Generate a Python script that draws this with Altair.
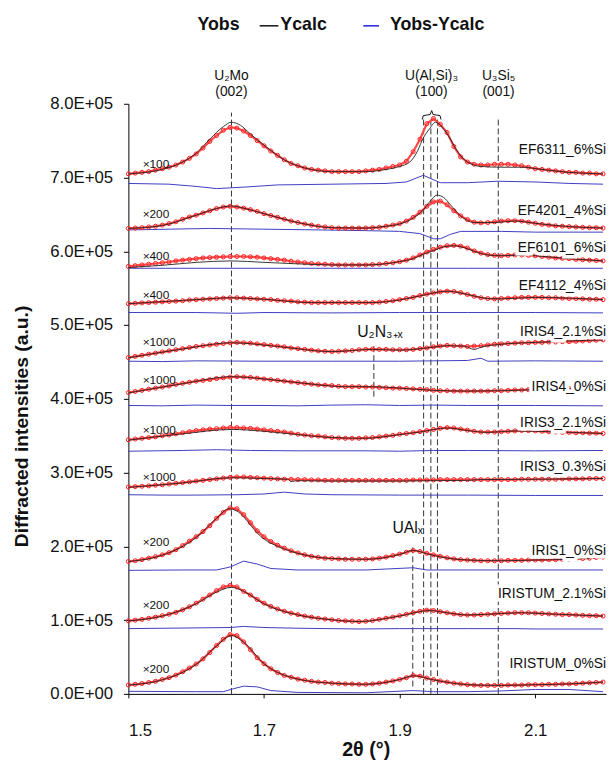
import altair as alt
import numpy as np
import pandas as pd

FONT = "Liberation Sans"

# x grid of the observed points (2-theta, degrees)
X_OBS = np.round(1.50 + 0.01 * np.arange(71), 2)

SAMPLES = ["EF6311_6%Si", "EF4201_4%Si", "EF6101_6%Si", "EF4112_4%Si",
           "IRIS4_2.1%Si", "IRIS4_0%Si", "IRIS3_2.1%Si", "IRIS3_0.3%Si",
           "IRIS1_0%Si", "IRISTUM_2.1%Si", "IRISTUM_0%Si"]
FACTORS = ["×100", "×200", "×400", "×400", "×1000", "×1000", "×1000", "×1000",
           "×200", "×200", "×200"]

# observed intensities (thousands of counts, offset stacked), x = 1.50 .. 2.20 step 0.01
OBS_EF6311 = [705, 706, 707, 708, 710, 712, 714, 717, 721, 726,
              732, 740, 749, 757, 764, 768, 767, 763, 757, 750,
              743, 736, 730, 724, 719, 716, 713, 711, 710, 709,
              708, 708, 708, 708, 708, 709, 710, 711, 713, 715,
              717, 722, 735, 752, 773, 780, 772, 761, 742, 728,
              721, 718, 717, 717, 718, 718, 718, 717, 716, 714,
              712, 711, 710, 709, 708, 707, 707, 706, 706, 705, 705]
OBS_EF4201 = [631, 631.5, 632, 633, 634, 635.5, 637.5, 640, 643.5, 646.5,
              649, 652, 655, 658, 660, 661, 660, 658.5, 656.5, 654,
              651, 648.5, 646, 643.5, 641, 639, 637, 635.5, 634, 633,
              632, 631.5, 631.5, 631.5, 631.5, 631.5, 632, 632.5, 634, 635.5,
              637.5, 641, 646, 653, 661, 667, 668, 663, 655, 648,
              643, 639.5, 638.5, 639, 640, 641, 641.5, 641.5, 641, 639.5,
              638, 636.5, 635.5, 634.5, 634, 633.5, 633, 632.5, 632, 632, 631.5]
OBS_EF6101 = [579.5, 580.5, 581.5, 582.5, 583.5, 584.5, 585.5, 587, 588, 589,
              590, 591, 591.5, 592, 592.5, 593, 593, 593, 592.5, 592,
              591, 590, 589, 588, 586.5, 585.5, 584.5, 583.5, 583, 582.5,
              582, 581.5, 581.5, 581.5, 581.5, 581.5, 582, 582.5, 583.5, 584.5,
              586, 588, 591, 595, 599, 602.5, 605.5, 607.5, 608, 607,
              604.5, 600.5, 597.5, 595.5, 594.5, 594, 594.5, 595, 595, 594.5,
              594, 593, 592, 591, 590.5, 590, 589, 588.5, 588, 587.5, 587]
OBS_EF4112 = [529, 529.5, 530, 530.5, 531, 531.5, 532, 532.5, 533, 534,
              534.5, 535, 535.5, 536, 536.5, 537, 537, 536.5, 536, 535.5,
              535, 534.5, 533.5, 533, 532.5, 531.5, 531, 530.5, 530.5, 530.5,
              530.5, 530.5, 530.5, 530.5, 530.5, 530.5, 530.5, 531, 532, 533,
              534.5, 536, 537.5, 540, 542, 543.5, 545, 546, 545.5, 544,
              541.5, 539, 537, 536, 535.5, 536, 536.5, 537, 537.5, 537.5,
              537.5, 537.5, 537, 537, 536.5, 536, 536, 535.5, 535, 535, 534.5]
OBS_IRIS4_21 = [456, 457.5, 459, 460.5, 462, 463.5, 465, 466.5, 468, 469.5,
                471, 472, 473, 474, 475, 476, 476.5, 476, 475.5, 474.5,
                473.5, 472.5, 471.5, 470.5, 469, 468, 467, 466, 465, 464.5,
                464, 464.5, 465, 465.5, 466.5, 467, 467.5, 467, 467, 466.5,
                466.5, 466.5, 467, 468, 469, 470.5, 471.5, 472.5, 472, 471.5,
                471, 471.5, 472, 473, 474, 474.5, 475, 475.5, 476, 476,
                476.5, 476.5, 477, 477, 477.5, 477.5, 478, 478.5, 479, 479.5, 480]
OBS_IRIS4_0 = [408.5, 410, 411.5, 413, 414.5, 416, 417.5, 419.5, 421, 422.5,
               424, 425, 426, 427.5, 428.5, 429.5, 430, 429.5, 429, 428,
               427, 426, 425, 424, 423, 422, 421, 420, 419, 418.5,
               418, 417, 416.5, 416.5, 416.5, 416, 416, 415.5, 415, 414.5,
               414.5, 414, 413.5, 413, 412.5, 411.5, 411, 411, 410.5, 410.5,
               410.5, 410.5, 410.5, 410.5, 411, 411, 411.5, 412, 412, 412.5,
               412.5, 413, 413, 413.5, 413.5, 414, 414, 414.5, 414.5, 415, 415]
OBS_IRIS3_21 = [344.5, 345.5, 346.5, 347.5, 348.5, 350, 351, 352.5, 354, 355.5,
                357, 358, 359, 359.5, 360.5, 361, 361, 360.5, 360, 359,
                358, 357, 356, 355, 353.5, 352, 351, 350, 349.5, 348.5,
                347.5, 347, 346.5, 346.5, 346.5, 347, 347.5, 348.5, 349.5, 350.5,
                352, 353, 354, 355.5, 357, 358.5, 360, 361, 360.5, 359,
                357.5, 356, 355, 355, 355, 355.5, 356, 356.5, 357, 357,
                356.5, 356, 355.5, 355, 354.5, 354.5, 354, 354, 353.5, 353.5, 353]
OBS_IRIS3_03 = [280.5, 281, 281.5, 282, 283, 283.5, 284.5, 285.5, 286.5, 287.5,
                288.5, 289.5, 290.5, 291.5, 292.5, 293.5, 294, 294, 293.5, 293,
                292.5, 292, 291.5, 291, 291, 290.5, 290.5, 290, 290, 289.5,
                289.5, 289.5, 289.5, 289.5, 289.5, 289.5, 289.5, 289.5, 289.5, 289.5,
                289.5, 289.5, 290, 290, 290, 290, 290.5, 290.5, 290.5, 290.5,
                290.5, 290.5, 290.5, 290.5, 290.5, 290.5, 290.5, 290.5, 291, 291,
                291, 291, 291, 291, 291.5, 291.5, 291.5, 291.5, 292, 292, 292]
OBS_IRIS1_0 = [179.5, 180.5, 182, 184, 186, 188.5, 191.5, 195.5, 201, 207,
               213, 220, 228, 238, 246, 252, 251, 243, 232, 221,
               213, 206.5, 201.5, 197.5, 194, 191, 188.5, 186.5, 185, 184,
               183.5, 183, 182.5, 182.5, 182.5, 182.5, 183, 184, 185.5, 187.5,
               189.5, 192, 194.5, 193, 190.5, 188.5, 186.5, 184.5, 183, 182,
               181.5, 181, 180.5, 180.5, 180.5, 180.5, 181, 181, 181, 181.5,
               181.5, 181.5, 182, 182, 182.5, 182.5, 183, 183.5, 184, 185, 185.5]
OBS_IRISTUM_21 = [99, 100, 101, 102.5, 104, 106, 108, 110.5, 114, 118,
                  123, 128.5, 134, 140, 145, 147, 145, 139, 134, 128,
                  123, 118.5, 115, 112, 109.5, 107.5, 105.5, 104, 102.5, 101.5,
                  100.5, 99.5, 99, 98.5, 98, 98.5, 99.5, 101, 102.5, 104,
                  106, 108, 110, 112, 113.5, 113, 111.5, 110, 108.5, 107.5,
                  107, 107, 107.5, 108, 108.5, 109, 109.5, 110, 110, 110,
                  109.5, 109, 108.5, 108, 107.5, 107.5, 107, 106.5, 106, 106, 105.5]
OBS_IRISTUM_0 = [12, 13, 14, 15.5, 17, 19.5, 22, 25.5, 30, 35,
                 40.5, 47.5, 56, 65.5, 74, 80.5, 79, 70.5, 60, 49,
                 41, 34, 29, 25, 22.5, 20, 18.5, 17, 16, 15.5,
                 14.5, 14, 13.5, 13.5, 13, 13, 13.5, 14.5, 16, 17.5,
                 19.5, 22, 25, 24, 21.5, 19.5, 17.5, 16, 14.5, 13.5,
                 12.5, 12, 11.5, 11.5, 11.5, 11.5, 12, 12, 12, 12.5,
                 12.5, 12.5, 13, 13, 13.5, 13.5, 14, 14.5, 15, 15.5, 16]

# calculated profiles (x, y)
CALC_EF6311 = [(1.50, 705), (1.55, 711), (1.58, 721), (1.60, 733), (1.62, 752), (1.64, 769),
               (1.652, 775), (1.665, 771), (1.68, 759), (1.70, 744), (1.73, 724), (1.76, 713),
               (1.80, 708), (1.85, 708), (1.88, 711), (1.90, 715), (1.915, 721), (1.927, 737),
               (1.934, 752), (1.944, 766), (1.953, 775), (1.963, 768), (1.973, 755), (1.983, 739),
               (1.997, 723), (2.02, 715), (2.05, 714), (2.08, 714), (2.11, 711), (2.15, 707), (2.20, 705)]
CALC_EF4201 = [(1.50, 631), (1.55, 635), (1.60, 649), (1.63, 658), (1.652, 661.5), (1.67, 658.5),
               (1.70, 651), (1.75, 639), (1.80, 632), (1.85, 631.5), (1.88, 634), (1.90, 637),
               (1.92, 645), (1.935, 656), (1.945, 668), (1.955, 676), (1.965, 673), (1.975, 663),
               (1.99, 648), (2.01, 639), (2.04, 639), (2.07, 641), (2.10, 638), (2.15, 633.5), (2.20, 631.5)]
CALC_EF6101 = [(1.50, 578), (1.55, 581), (1.60, 585), (1.652, 587), (1.70, 585), (1.75, 583),
               (1.80, 581.5), (1.85, 581.5), (1.90, 586), (1.92, 590), (1.935, 596), (1.95, 601),
               (1.965, 606), (1.98, 607.5), (1.995, 605), (2.01, 600), (2.03, 595), (2.05, 594),
               (2.08, 595), (2.10, 594), (2.15, 590), (2.20, 587)]
CALC_EF4112 = [(1.50, 529), (1.60, 534.5), (1.652, 537), (1.70, 535), (1.77, 530.5), (1.86, 530.5),
               (1.90, 534), (1.93, 539.5), (1.97, 546), (2.00, 541.5), (2.03, 536), (2.05, 535.5),
               (2.10, 537.5), (2.20, 534.5)]
CALC_IRIS4_21 = [(1.50, 455.5), (1.58, 467.5), (1.652, 476), (1.72, 471), (1.80, 464), (1.86, 467),
                 (1.90, 466), (1.95, 470), (1.97, 472), (1.995, 471.5), (2.01, 467), (2.02, 470),
                 (2.05, 474), (2.10, 476.5), (2.20, 480)]
CALC_IRIS4_0 = [(1.50, 408), (1.58, 420.5), (1.652, 430), (1.70, 427), (1.76, 421), (1.82, 416.5),
                (1.86, 416.5), (1.90, 414.5), (1.95, 411.5), (2.00, 410.5), (2.05, 411), (2.10, 412.5),
                (2.20, 415)]
CALC_IRIS3_21 = [(1.50, 344), (1.58, 352.5), (1.652, 358.5), (1.70, 356), (1.75, 351.5), (1.80, 347.5),
                 (1.85, 346.5), (1.90, 351.5), (1.93, 355), (1.97, 360.5), (2.00, 357), (2.03, 354.5),
                 (2.07, 356.5), (2.10, 356), (2.20, 353)]
CALC_IRIS3_03 = [(1.50, 280), (1.58, 286), (1.652, 293), (1.70, 292), (1.735, 291), (1.74, 288),
                 (1.75, 289), (1.80, 288.5), (1.90, 288.5), (1.95, 289), (2.00, 289.5), (2.02, 290.5),
                 (2.10, 291), (2.20, 292)]
CALC_IRIS1_0 = [(1.50, 179.5), (1.55, 188), (1.60, 212), (1.63, 238), (1.648, 251), (1.66, 248),
                (1.67, 240), (1.68, 229), (1.69, 218), (1.70, 210), (1.72, 200), (1.75, 190.5),
                (1.80, 183.5), (1.85, 182.5), (1.90, 189), (1.92, 194.5), (1.94, 190), (1.97, 184),
                (2.00, 181.5), (2.05, 180.5), (2.10, 181.5), (2.15, 182.5), (2.20, 185.5)]
CALC_IRISTUM_21 = [(1.50, 99), (1.55, 105.5), (1.60, 122), (1.63, 138), (1.652, 144.5), (1.67, 139),
                   (1.70, 122), (1.75, 107), (1.80, 100.5), (1.84, 98), (1.90, 105.5), (1.945, 113),
                   (1.97, 110), (2.00, 107), (2.05, 109), (2.08, 110), (2.12, 108.5), (2.20, 105.5)]
CALC_IRISTUM_0 = [(1.50, 12), (1.55, 19), (1.60, 40), (1.63, 65), (1.652, 79), (1.67, 70),
                  (1.70, 41), (1.75, 20), (1.80, 14.5), (1.85, 13), (1.90, 19.5), (1.92, 24.5),
                  (1.95, 19), (2.00, 12.5), (2.05, 11.5), (2.10, 12.5), (2.15, 13.5), (2.20, 16)]

# difference curves Yobs-Ycalc (x, y)
DIFF_EF6311 = [(1.50, 692), (1.56, 691), (1.60, 688), (1.63, 685), (1.67, 687), (1.72, 690),
               (1.80, 691), (1.88, 692), (1.91, 694), (1.935, 703), (1.95, 697), (1.96, 693),
               (2.00, 693), (2.045, 695), (2.10, 694), (2.15, 692), (2.20, 691)]
DIFF_EF4201 = [(1.50, 629), (1.56, 630), (1.62, 631), (1.70, 630), (1.78, 629), (1.85, 628),
               (1.90, 627), (1.93, 624), (1.95, 617), (1.96, 617), (1.975, 623), (1.99, 627),
               (2.05, 627), (2.10, 626), (2.15, 626), (2.20, 626)]
DIFF_EF6101 = [(1.50, 577), (1.60, 577), (1.70, 577), (1.80, 577), (1.90, 577), (2.00, 577),
               (2.10, 577), (2.20, 577)]
DIFF_EF4112 = [(1.50, 517), (1.60, 517), (1.66, 516), (1.70, 517), (1.80, 516.5), (1.90, 517),
               (2.00, 517), (2.10, 517), (2.20, 516.5)]
DIFF_IRIS4_21 = [(1.50, 451), (1.55, 450.5), (1.60, 451.5), (1.70, 451), (1.80, 451), (1.90, 451),
                 (1.95, 451.5), (2.00, 452), (2.02, 455), (2.03, 451), (2.10, 451.5), (2.20, 451)]
DIFF_IRIS4_0 = [(1.50, 391), (1.55, 390.5), (1.60, 391.5), (1.65, 391), (1.70, 391), (1.75, 390.5),
                (1.80, 391.5), (1.85, 392), (1.90, 391), (1.95, 391.5), (2.00, 391), (2.10, 391),
                (2.20, 390.5)]
DIFF_IRIS3_21 = [(1.50, 329), (1.58, 330), (1.63, 331), (1.68, 330), (1.75, 329.5), (1.85, 329.5),
                 (1.90, 329), (1.95, 330), (2.00, 330), (2.10, 329.5), (2.20, 330)]
DIFF_IRIS3_03 = [(1.50, 270), (1.55, 269.5), (1.60, 269.5), (1.66, 270), (1.70, 271), (1.73, 273.5),
                 (1.76, 271), (1.80, 270), (1.90, 269.5), (2.00, 269.5), (2.10, 269), (2.20, 269)]
DIFF_IRIS1_0 = [(1.50, 167.5), (1.58, 168), (1.63, 168), (1.65, 172), (1.67, 180), (1.69, 176),
                (1.71, 170), (1.75, 168), (1.85, 168), (1.92, 171), (1.94, 168), (2.00, 168),
                (2.10, 168), (2.20, 168)]
DIFF_IRISTUM_21 = [(1.50, 88.5), (1.60, 89.5), (1.65, 90), (1.67, 91.5), (1.70, 90), (1.75, 89),
                   (1.84, 88), (1.90, 88.5), (2.00, 88.5), (2.07, 88.5), (2.10, 88), (2.20, 88)]
DIFF_IRISTUM_0 = [(1.50, 3.5), (1.60, 3), (1.64, 3), (1.655, 7), (1.67, 10.5), (1.69, 9.5),
                  (1.71, 4.5), (1.75, 2), (1.85, 1.5), (1.92, 4.5), (1.95, 3), (2.00, 3),
                  (2.05, 4), (2.10, 6), (2.15, 6), (2.20, 3)]

OBS = [OBS_EF6311, OBS_EF4201, OBS_EF6101, OBS_EF4112, OBS_IRIS4_21, OBS_IRIS4_0,
       OBS_IRIS3_21, OBS_IRIS3_03, OBS_IRIS1_0, OBS_IRISTUM_21, OBS_IRISTUM_0]
CALC = [CALC_EF6311, CALC_EF4201, CALC_EF6101, CALC_EF4112, CALC_IRIS4_21, CALC_IRIS4_0,
        CALC_IRIS3_21, CALC_IRIS3_03, CALC_IRIS1_0, CALC_IRISTUM_21, CALC_IRISTUM_0]
DIFF = [DIFF_EF6311, DIFF_EF4201, DIFF_EF6101, DIFF_EF4112, DIFF_IRIS4_21, DIFF_IRIS4_0,
        DIFF_IRIS3_21, DIFF_IRIS3_03, DIFF_IRIS1_0, DIFF_IRISTUM_21, DIFF_IRISTUM_0]

# annotation anchors (data units)
X_MAX = 2.2044
SAMPLE_LABEL_Y = [737, 655, 604, 553, 490, 416, 367, 307, 194, 135, 40]
FACTOR_LABEL_Y = [718, 650, 593, 541, 477, 426, 358, 294, 206, 120, 33]
REF_LINES = [(1.652, 0, 788), (1.9354, 0, 780), (1.9461, 0, 780), (1.9558, 0, 780),
             (2.0455, 0, 780), (1.9194, 10, 202), (1.862, 403, 475)]
PEAK_TEXT = [("U₂Mo", 1.652, 837), ("(002)", 1.652, 816),
             ("U(Al,Si)₃", 1.947, 837), ("(100)", 1.947, 816),
             ("U₃Si₅", 2.046, 837), ("(001)", 2.046, 816)]
PHASE_TEXT = [("U₂N₃₊ₓ", 1.871, 490), ("UAlₓ", 1.912, 225)]
BRACKET = [(1.9335, 778.7), (1.9349, 784), (1.945, 785.4), (1.9473, 790.7),
           (1.9494, 785.4), (1.9596, 784), (1.961, 778.7)]

obs_df = pd.DataFrame([{"sample": s, "x": float(x), "y": y}
                       for s, ys in zip(SAMPLES, OBS) for x, y in zip(X_OBS, ys)])
calc_df = pd.DataFrame([{"sample": s, "x": x, "y": y}
                        for s, pts in zip(SAMPLES, CALC) for x, y in pts])
diff_df = pd.DataFrame([{"sample": s, "x": x, "y": y}
                        for s, pts in zip(SAMPLES, DIFF) for x, y in pts])
lab_df = pd.DataFrame({"sample": SAMPLES, "factor": FACTORS,
                       "ys": SAMPLE_LABEL_Y, "yf": FACTOR_LABEL_Y,
                       "xs": [X_MAX] * 11, "xf": [1.521] * 11})
ref_df = pd.DataFrame(REF_LINES, columns=["x", "y", "y2"])
peak_df = pd.DataFrame(PEAK_TEXT, columns=["t", "x", "y"])
phase_df = pd.DataFrame(PHASE_TEXT, columns=["t", "x", "y"])
br_df = pd.DataFrame(BRACKET, columns=["x", "y"])
br_df["o"] = range(len(br_df))

xscale = alt.Scale(domain=[1.5, X_MAX], nice=False, zero=False)
yscale = alt.Scale(domain=[0, 800], nice=False, zero=False)
x_axis = alt.Axis(values=[1.5, 1.7, 1.9, 2.1], format=".1f", grid=False, tickSize=4,
                  labelFontSize=17, labelPadding=25, title=None)
y_axis = alt.Axis(values=list(range(0, 801, 100)), grid=False, tickSize=5, labelFontSize=17,
                  labelPadding=11,
                  labelExpr="format(datum.value/100, '.1f') + (datum.value == 0 ? 'E+00' : 'E+05')",
                  title=None)


def X(field="x"):
    return alt.X(f"{field}:Q", scale=xscale, axis=x_axis)


def Y(field="y"):
    return alt.Y(f"{field}:Q", scale=yscale, axis=y_axis)


rules = alt.Chart(ref_df).mark_rule(color="#333", strokeWidth=1, strokeDash=[6, 3]).encode(
    x=X(), y=Y(), y2="y2:Q")
diff = alt.Chart(diff_df).mark_line(color="#3c3cc0", strokeWidth=1).encode(
    x=X(), y=Y(), detail="sample:N")
obs_band = alt.Chart(obs_df).mark_line(color="#ff4a4a", strokeWidth=2.2).encode(
    x=X(), y=Y(), detail="sample:N")
obs = alt.Chart(obs_df).mark_point(shape="circle", filled=False, color="#ff1e1e",
                                   size=17, strokeWidth=1, opacity=1).encode(
    x=X(), y=Y(), detail="sample:N")
calc = alt.Chart(calc_df).mark_line(color="#222", strokeWidth=0.9, interpolate="monotone").encode(
    x=X(), y=Y(), detail="sample:N")
bracket = alt.Chart(br_df).mark_line(color="#111", strokeWidth=1).encode(
    x=X(), y=Y(), order="o:Q")

halo = alt.Chart(lab_df).mark_text(align="right", baseline="middle", font=FONT, fontSize=14,
                                   stroke="white", strokeWidth=7, color="white").encode(
    x=X("xs"), y=Y("ys"), text="sample:N")
slabels = alt.Chart(lab_df).mark_text(align="right", baseline="middle", font=FONT, fontSize=14,
                                      color="#111").encode(x=X("xs"), y=Y("ys"), text="sample:N")
flabels = alt.Chart(lab_df).mark_text(align="left", baseline="middle", font=FONT, fontSize=12,
                                      color="#111").encode(x=X("xf"), y=Y("yf"), text="factor:N")
peaks = alt.Chart(peak_df).mark_text(align="center", baseline="middle", font=FONT, fontSize=14,
                                     color="#111").encode(x=X(), y=Y(), text="t:N")
phases = alt.Chart(phase_df).mark_text(align="center", baseline="middle", font=FONT, fontSize=16,
                                       color="#111").encode(x=X(), y=Y(), text="t:N")

dummy = pd.DataFrame({"a": [0]})


def free_text(t, px, py, size, angle=0, align="left"):
    return alt.Chart(dummy).mark_text(text=t, align=align, baseline="middle", font=FONT,
                                      fontSize=size, fontWeight="bold", color="#111",
                                      angle=angle).encode(x=alt.value(px), y=alt.value(py))


def leg_rule(c, x1, x2):
    return alt.Chart(dummy).mark_rule(color=c, strokeWidth=1.5).encode(
        x=alt.value(x1), x2=alt.value(x2), y=alt.value(-79))


chart = alt.layer(
    rules, diff, obs_band, obs, calc, bracket, halo, slabels, flabels, peaks, phases,
    free_text("Yobs", 70, -80, 18), leg_rule("#111", 133, 152), free_text("Ycalc", 154, -80, 18),
    leg_rule("#2020e0", 238, 254), free_text("Yobs-Ycalc", 265, -80, 18),
    free_text("Diffracted intensities (a.u.)", -108, 327, 19.5, angle=270, align="center"),
    free_text("2θ (°)", 241, 655, 20, align="center"),
).properties(
    width=484, height=598,
    padding={"left": 122, "top": 92, "right": 1, "bottom": 67},
    autosize=alt.AutoSizeParams(type="none"),
).configure_view(stroke=None).configure_axis(
    labelFont=FONT, titleFont=FONT, domainColor="#000", tickColor="#000",
    labelColor="#111", titleColor="#000")

chart.save("out.html", embed_options={"renderer": "svg", "actions": False})
